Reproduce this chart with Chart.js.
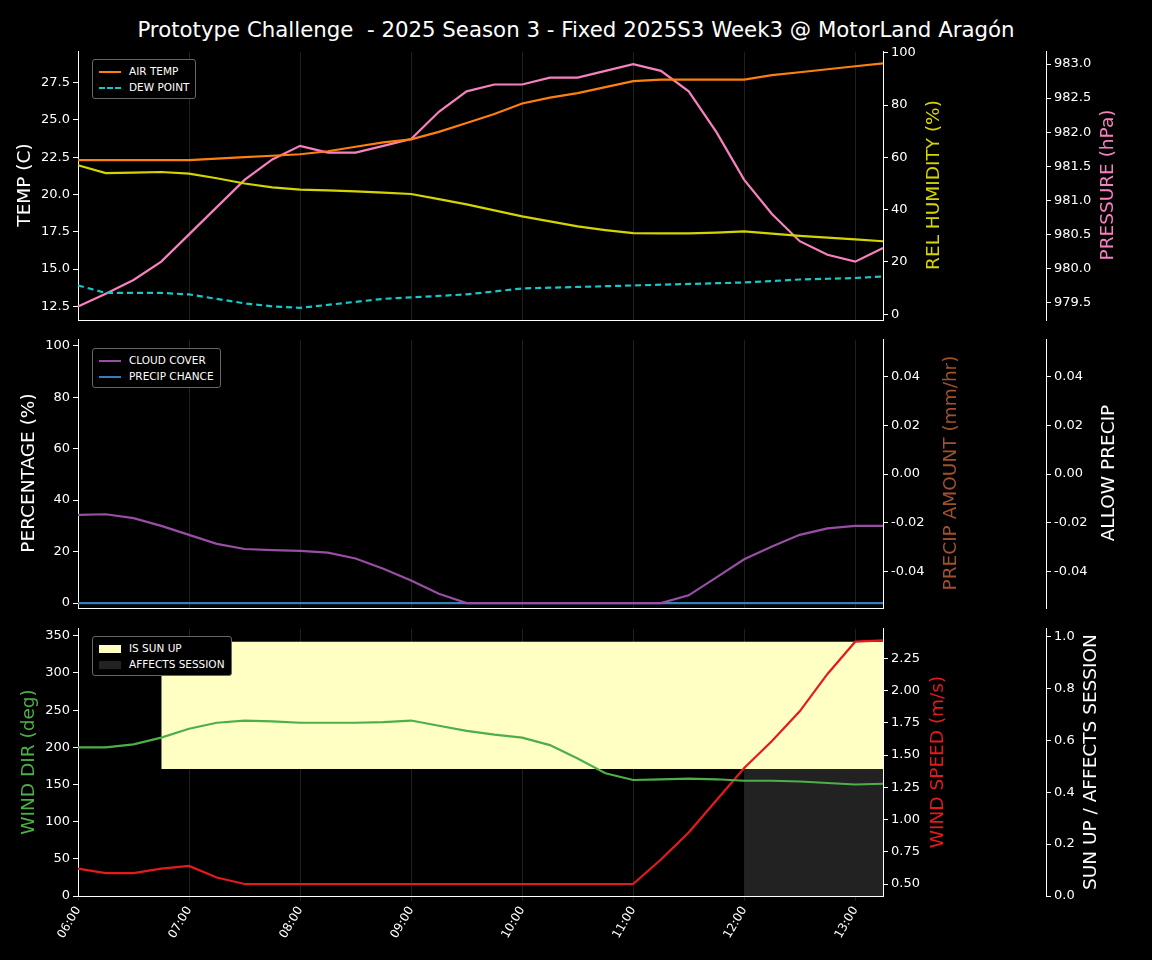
<!DOCTYPE html>
<html><head><meta charset="utf-8">
<script src="https://cdn.jsdelivr.net/npm/chart.js@4"></script>
<style>
body{margin:0;background:#000;width:1152px;height:960px;overflow:hidden;font-family:"DejaVu Sans",sans-serif;position:relative}
.c{position:absolute;left:0;width:1152px}
#title{position:absolute;top:17px;left:0;width:1152px;text-align:center;color:#fff;font-size:21.3px;white-space:pre}
.leg{position:absolute;background:#000;border:1px solid #666;border-radius:3px;color:#fff;font-size:10.5px;padding:3px 6px;line-height:16px}
.leg span{display:inline-block;width:22px;height:0;vertical-align:middle;margin-right:8px}
.leg b{display:inline-block;width:22px;height:8px;vertical-align:middle;margin-right:8px}
.at{position:absolute;width:400px;height:24px;line-height:24px;text-align:center;font-size:18.5px;transform:translate(-50%,-50%) rotate(-90deg);white-space:nowrap}
</style></head><body>
<div id="title">Prototype Challenge  - 2025 Season 3 - Fixed 2025S3 Week3 @ MotorLand Aragón</div>
<div class="c" style="top:41px;height:290px"><canvas id="c1"></canvas></div>
<div class="c" style="top:329px;height:290px"><canvas id="c2"></canvas></div>
<div class="c" style="top:618px;height:342px"><canvas id="c3"></canvas></div>
<div class="at" style="left:24px;top:185px;color:#fff">TEMP (C)</div>
<div class="at" style="left:933px;top:185px;color:#d4d400">REL HUMIDITY (%)</div>
<div class="at" style="left:1107px;top:185px;color:#f781bf">PRESSURE (hPa)</div>
<div class="at" style="left:28px;top:473px;color:#fff">PERCENTAGE (%)</div>
<div class="at" style="left:950px;top:473px;color:#a0522d">PRECIP AMOUNT (mm/hr)</div>
<div class="at" style="left:1108px;top:473px;color:#fff">ALLOW PRECIP</div>
<div class="at" style="left:28px;top:762px;color:#4daf4a">WIND DIR (deg)</div>
<div class="at" style="left:937px;top:762px;color:#e41a1c">WIND SPEED (m/s)</div>
<div class="at" style="left:1090px;top:762px;color:#fff">SUN UP / AFFECTS SESSION</div>
<div class="leg" style="left:92px;top:59px"><div><span style="border-top:2px solid #ff7f0e"></span>AIR TEMP</div><div><span style="border-top:2px dashed #17c8c8"></span>DEW POINT</div></div>
<div class="leg" style="left:92px;top:348px"><div><span style="border-top:2px solid #984ea3"></span>CLOUD COVER</div><div><span style="border-top:2px solid #377eb8"></span>PRECIP CHANCE</div></div>
<div class="leg" style="left:92px;top:636px"><div><b style="background:#ffffc4"></b>IS SUN UP</div><div><b style="background:#222"></b>AFFECTS SESSION</div></div>
<script>
const times=["06:00","06:15","06:30","06:45","07:00","07:15","07:30","07:45","08:00","08:15","08:30","08:45","09:00","09:15","09:30","09:45","10:00","10:15","10:30","10:45","11:00","11:15","11:30","11:45","12:00","12:15","12:30","12:45","13:00","13:15"];
const airTemp=[22.3,22.3,22.3,22.3,22.3,22.4,22.5,22.6,22.7,22.9,23.2,23.5,23.7,24.2,24.8,25.4,26.1,26.5,26.8,27.2,27.6,27.7,27.7,27.7,27.7,28.0,28.2,28.4,28.6,28.8];
const dewPoint=[13.9,13.4,13.4,13.4,13.3,13.0,12.7,12.5,12.4,12.6,12.8,13.0,13.1,13.2,13.3,13.5,13.7,13.75,13.8,13.85,13.9,13.95,14.0,14.05,14.1,14.2,14.3,14.35,14.4,14.5];
const relHumidity=[57,54,54.2,54.4,53.8,52,50,48.5,47.7,47.4,47,46.5,46,44,42,39.7,37.4,35.5,33.6,32.2,31,30.9,30.9,31.2,31.7,30.8,30,29.3,28.6,27.9];
const pressure=[979.44,979.63,979.83,980.1,980.5,980.9,981.3,981.6,981.8,981.7,981.7,981.8,981.9,982.3,982.6,982.7,982.7,982.8,982.8,982.9,983.0,982.9,982.6,982.0,981.3,980.8,980.4,980.2,980.1,980.3];
const cloudCover=[34.3,34.5,33,30,26.5,23,21,20.6,20.3,19.6,17.3,13.3,8.8,3.6,0,0,0,0,0,0,0,0,3,10,17,22,26.5,29,30,30];
const precipChance=times.map(()=>0);
const windDir=[200,200,204,213,225,233,236,235,233,233,233,234,236,229,222,217,213,203,185,165,156,157,158,157,155,155,154,152,150,151];
const windSpeed=[0.62,0.585,0.585,0.62,0.64,0.55,0.5,0.5,0.5,0.5,0.5,0.5,0.5,0.5,0.5,0.5,0.5,0.5,0.5,0.5,0.5,0.69,0.9,1.15,1.4,1.61,1.84,2.13,2.38,2.39];
const sunUp=[null,null,null,0.98,0.98,0.98,0.98,0.98,0.98,0.98,0.98,0.98,0.98,0.98,0.98,0.98,0.98,0.98,0.98,0.98,0.98,0.98,0.98,0.98,0.98,0.98,0.98,0.98,0.98,0.98];
const affectsSession=[null,null,null,null,null,null,null,null,null,null,null,null,null,null,null,null,null,null,null,null,null,null,null,null,0.49,0.49,0.49,0.49,0.49,0.49];

Chart.defaults.font.family='"DejaVu Sans",sans-serif';
Chart.defaults.color='#fff';
Chart.defaults.animation=false;
const F={size:13};
function ax(pos,min,max,step,dec,width){
 return {type:'linear',position:pos,min,max,
  afterBuildTicks:a=>{const t=[];for(let k=Math.ceil(min/step-1e-9);k*step<=max+1e-9;k++)t.push({value:+(k*step).toFixed(6)});a.ticks=t;},
  afterFit:a=>{a.width=width;},
  ticks:{color:'#fff',font:F,callback:v=>Number(v).toFixed(dec)},
  grid:{drawOnChartArea:false,color:'#fff',tickLength:5},border:{color:'#fff'},
  title:{display:false}};
}
function xax(show){
 return {type:'category',offset:false,
  afterFit:a=>{a.height=show?64:0;},
  grid:{color:(c)=>(c.index%4==0?'rgba(90,90,90,0.35)':'rgba(0,0,0,0)'),drawTicks:show,tickLength:5},
  border:{color:'#fff'},
  ticks:{display:show,autoSkip:false,maxRotation:60,minRotation:60,font:{size:12},color:'#fff',callback:function(v,i){return i%4==0?this.getLabelForValue(v):'';}}};
}
const base=()=>({responsive:true,maintainAspectRatio:false,layout:{padding:{top:10,left:0,right:0,bottom:0}},
  plugins:{legend:{display:false},tooltip:{enabled:false}},elements:{point:{radius:0},line:{tension:0,borderWidth:2.2}}});
function ln(data,col,y,extra={}){return Object.assign({data,borderColor:col,backgroundColor:col,yAxisID:y,fill:false},extra);}

new Chart(document.getElementById('c1'),{type:'line',data:{labels:times,datasets:[
 ln(airTemp,'#ff7f0e','yT'),ln(dewPoint,'#17c8c8','yT',{borderDash:[6,4]}),
 ln(relHumidity,'#d4d400','yH'),ln(pressure,'#f781bf','yP')]},
 options:Object.assign(base(),{scales:{x:xax(false),
  yT:ax('left',11.57,29.57,2.5,1,78),
  yH:ax('right',-2.3,100.4,20,0,163),
  yP:ax('right',979.24,983.18,0.5,1,106)}})});

new Chart(document.getElementById('c2'),{type:'line',data:{labels:times,datasets:[
 ln(cloudCover,'#984ea3','yC'),ln(precipChance,'#377eb8','yC')]},
 options:Object.assign(base(),{scales:{x:xax(false),
  yC:ax('left',-2,102.3,20,0,78),
  yA:ax('right',-0.055,0.055,0.02,2,163),
  yB:ax('right',-0.055,0.055,0.02,2,106)}})});

new Chart(document.getElementById('c3'),{type:'line',data:{labels:times,datasets:[
 ln(sunUp,'#ffffc4','yS',{borderWidth:0,fill:{value:0.49},backgroundColor:'#ffffc4',order:5}),
 ln(affectsSession,'#222','yS',{borderWidth:0,fill:'origin',backgroundColor:'#222',order:5}),
 ln(windDir,'#4daf4a','yD',{order:1}),ln(windSpeed,'#e41a1c','yW',{order:1})]},
 options:Object.assign(base(),{scales:{x:xax(true),
  yD:ax('left',0,359.4,50,0,78),
  yW:ax('right',0.407,2.48,0.25,2,163),
  yS:ax('right',0,1.03,0.2,1,106)}})});
</script>
</body></html>
